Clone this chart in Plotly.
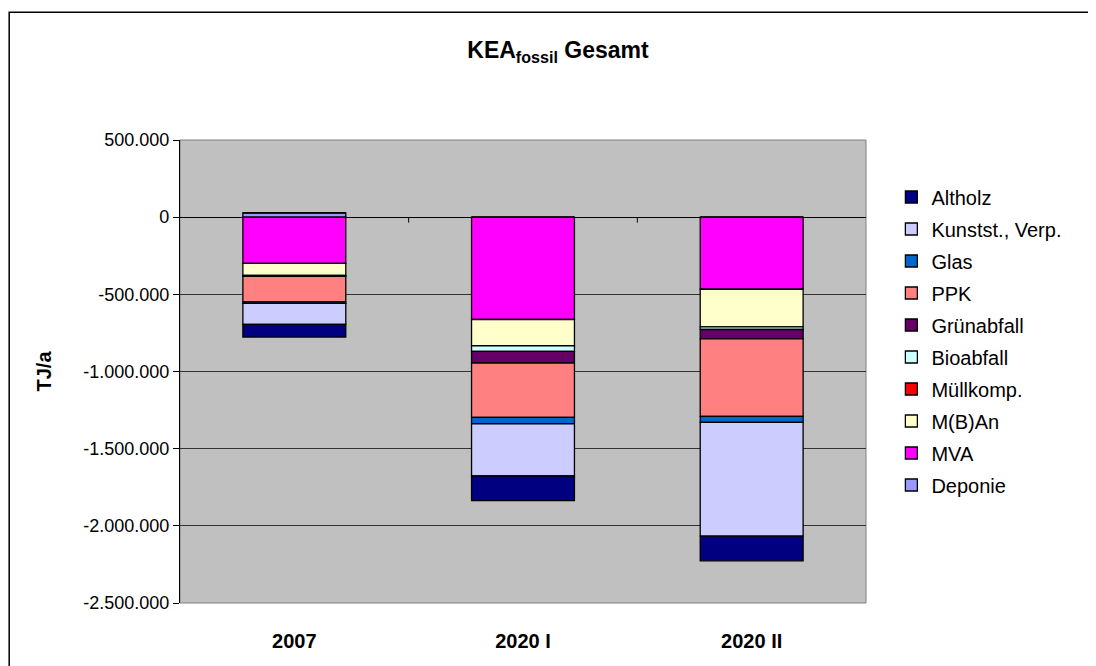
import plotly.graph_objects as go

categories = ["2007", "2020 I", "2020 II"]

# series in stacking order (first = nearest to zero)
deponie = [28000, 0, 0]
mva = [-300000, -663000, -467000]
mban = [-78000, -170000, -244000]
muellkomp = [0, 0, 0]
bioabfall = [0, -37000, -17000]
gruenabfall = [-6000, -75000, -60000]
ppk = [-165000, -352000, -503000]
glas = [-10000, -43000, -39000]
kunststoff = [-136000, -337000, -737000]
altholz = [-82000, -160000, -160000]

series = [
    ("Deponie", deponie, "#9999FF"),
    ("MVA", mva, "#FF00FF"),
    ("M(B)An", mban, "#FFFFCC"),
    ("Müllkomp.", muellkomp, "#FF0000"),
    ("Bioabfall", bioabfall, "#CCFFFF"),
    ("Grünabfall", gruenabfall, "#660066"),
    ("PPK", ppk, "#FF8080"),
    ("Glas", glas, "#0066CC"),
    ("Kunstst., Verp.", kunststoff, "#CCCCFF"),
    ("Altholz", altholz, "#000080"),
]

tick_vals = [500000, 0, -500000, -1000000, -1500000, -2000000, -2500000]
tick_text = ["500.000", "0", "-500.000", "-1.000.000", "-1.500.000",
             "-2.000.000", "-2.500.000"]

font = "Liberation Sans, Arial, sans-serif"

fig = go.Figure()
for i, (name, values, color) in enumerate(series):
    fig.add_trace(
        go.Bar(
            x=categories,
            y=values,
            name=name,
            legendgroup=name,
            legendrank=100 - i,
            marker=dict(color=color, line=dict(color="black", width=1.3)),
            width=0.45,
        )
    )

fig.update_layout(
    width=1096,
    height=666,
    barmode="relative",
    paper_bgcolor="white",
    plot_bgcolor="#C0C0C0",
    margin=dict(l=172, r=238, t=132, b=71),
    font=dict(family=font, size=18, color="black"),
    title=dict(
        text="<b>KEA<sub>fossil</sub> Gesamt</b>",
        x=0.551,
        xref="paper",
        xanchor="center",
        y=0.937,
        yanchor="middle",
        font=dict(size=23),
    ),
    legend=dict(
        x=1.037,
        xanchor="left",
        y=0.919,
        yanchor="top",
        traceorder="grouped",
        tracegroupgap=3,
        font=dict(size=20),
        bgcolor="rgba(0,0,0,0)",
    ),
    xaxis=dict(
        showline=False,
        showgrid=False,
        ticks="",
        tickfont=dict(size=20),
        tickprefix="<b>",
        ticksuffix="</b>",
        ticklabelstandoff=24,
    ),
    yaxis=dict(
        range=[-2500000, 500000],
        tickvals=tick_vals,
        ticktext=tick_text,
        showgrid=True,
        gridcolor="#333333",
        gridwidth=1,
        zeroline=True,
        zerolinecolor="black",
        zerolinewidth=1.2,
        showline=True,
        linecolor="black",
        linewidth=1.2,
        ticks="outside",
        ticklen=6,
        tickcolor="black",
        tickfont=dict(size=18),
        title=dict(text="<b>TJ/a</b>", font=dict(size=20), standoff=26),
    ),
)

# plot area border and outer chart frame
fig.add_shape(type="rect", xref="paper", yref="paper", x0=0, x1=1, y0=0, y1=1,
              line=dict(color="#808080", width=1), layer="below")
fig.add_shape(type="rect", xref="paper", yref="paper",
              x0=-0.249, x1=1.5, y0=-0.5, y1=1.276,
              line=dict(color="black", width=1.5))
# category separator ticks on the zero line
for pos in [0.5, 1.5]:
    fig.add_shape(type="line", xref="x", yref="y", x0=pos, x1=pos,
                  y0=0, y1=-35000, line=dict(color="black", width=1))

fig.write_html("out.html")
